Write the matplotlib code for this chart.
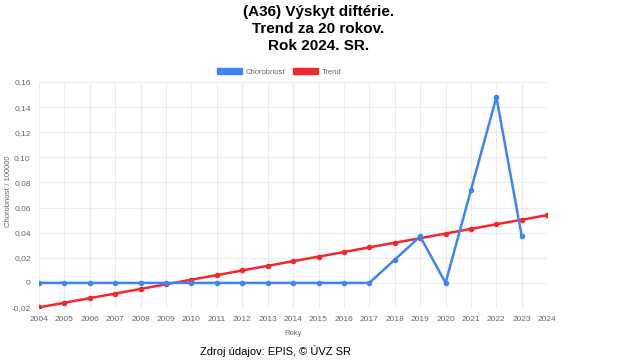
import matplotlib.pyplot as plt
from matplotlib.patches import Patch

roky = list(range(2004, 2025))
roky_chor = list(range(2004, 2024))
chorobnost = [0, 0, 0, 0, 0, 0, 0, 0, 0, 0, 0, 0, 0, 0,
              0.0185, 0.037, 0, 0.074, 0.148, 0.037]
trend = [-0.0195, -0.0158, -0.0121, -0.0085, -0.0048, -0.0011, 0.0026,
         0.0062, 0.0099, 0.0136, 0.0173, 0.0209, 0.0246, 0.0283, 0.0320,
         0.0356, 0.0393, 0.0430, 0.0467, 0.0503, 0.0540]
y_ticks = [-0.02, 0, 0.02, 0.04, 0.06, 0.08, 0.10, 0.12, 0.14, 0.16]

plt.rcParams['font.family'] = ['Liberation Sans', 'DejaVu Sans']

modra = '#3d85f4'
cervena = '#f0282d'
seda = '#666666'

fig = plt.figure(figsize=(6.4, 3.6), dpi=100)
ax = fig.add_axes([0.061, 0.1444, 0.794, 0.6278])

ax.plot(roky_chor, chorobnost, color=modra, lw=1.8, marker='o', ms=3, zorder=3)
ax.plot(roky, trend, color=cervena, lw=1.8, marker='o', ms=3, zorder=2)

ax.set_xlim(2004, 2024)
ax.set_ylim(-0.02, 0.16)
ax.set_xticks(roky)
ax.set_xticklabels([str(r) for r in roky], fontsize=6, color=seda)
ax.set_yticks(y_ticks)
ax.set_yticklabels([('%.2f' % v).replace('.', ',') if v != 0 else '0' for v in y_ticks],
                   fontsize=6, color=seda)
ax.tick_params(length=0, pad=6)
ax.grid(True, color='#ececec', lw=0.8)
for s in ax.spines.values():
    s.set_visible(False)
ax.axvline(2004, color='#e0e0e0', lw=0.8, zorder=0)

ax.set_xlabel('Roky', fontsize=5.5, color=seda, labelpad=5)
fig.text(0.013, 0.47, 'Chorobnosť / 100000', rotation=90, ha='center', va='center',
         fontsize=5.5, color=seda)

fig.text(0.497, 0.985, '(A36) Výskyt diftérie.\nTrend za 20 rokov.\nRok 2024. SR.',
         ha='center', va='top', fontsize=11, fontweight='bold', linespacing=1.25)

handles = [Patch(facecolor=modra, edgecolor=modra), Patch(facecolor=cervena, edgecolor=cervena)]
fig.legend(handles, ['Chorobnosť', 'Trend'], loc='center', bbox_to_anchor=(0.436, 0.8),
           ncol=2, frameon=False, fontsize=5.5, handlelength=3.3, handleheight=0.9,
           columnspacing=1.0, handletextpad=0.4, labelcolor=seda)

fig.text(0.43, 0.025, 'Zdroj údajov: EPIS, © ÚVZ SR', ha='center', va='center', fontsize=8)

fig.savefig('out.png', dpi=100)
